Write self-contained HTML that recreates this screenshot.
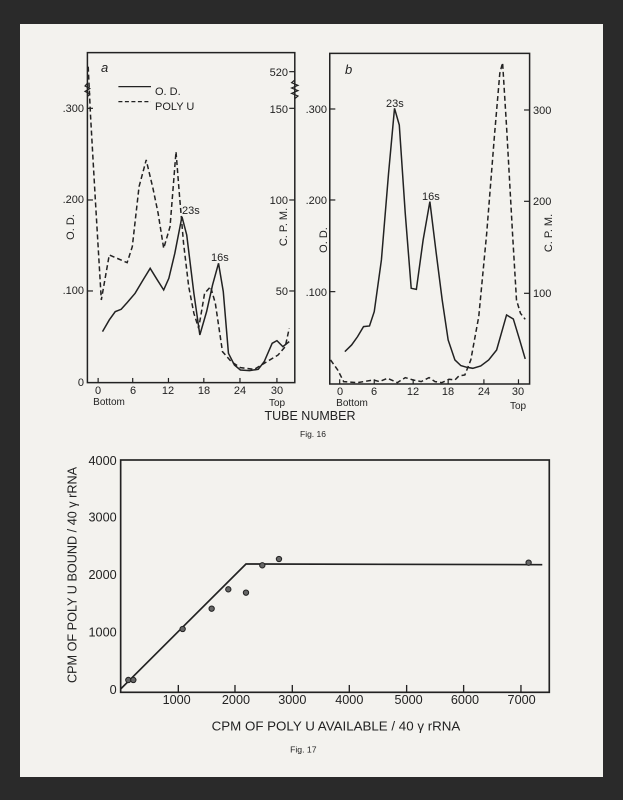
<!DOCTYPE html>
<html><head><meta charset="utf-8"><style>
html,body{margin:0;padding:0;background:#2a2a2a;}
svg{display:block;}
text{font-family:"Liberation Sans",sans-serif;fill:#222;}
</style></head><body>
<svg width="623" height="800" viewBox="0 0 623 800" xmlns="http://www.w3.org/2000/svg">
<rect x="0" y="0" width="623" height="800" fill="#2a2a2a"/>
<rect x="20" y="24" width="583" height="753" fill="#f3f2ee"/>
<g transform="scale(0.3973,0.3333)" stroke="#222" fill="none" stroke-width="4" vector-effect="non-scaling-stroke">
  <rect x="220" y="158" width="522" height="990" vector-effect="non-scaling-stroke" stroke-width="1.5"/>
  <g stroke-width="1.2">
    <line vector-effect="non-scaling-stroke" x1="220" y1="325" x2="234" y2="325"/><line vector-effect="non-scaling-stroke" x1="220" y1="600" x2="234" y2="600"/><line vector-effect="non-scaling-stroke" x1="220" y1="873" x2="234" y2="873"/>
    <line vector-effect="non-scaling-stroke" x1="742" y1="215" x2="728" y2="215"/><line vector-effect="non-scaling-stroke" x1="742" y1="325" x2="728" y2="325"/><line vector-effect="non-scaling-stroke" x1="742" y1="600" x2="728" y2="600"/><line vector-effect="non-scaling-stroke" x1="742" y1="873" x2="728" y2="873"/>
    <line vector-effect="non-scaling-stroke" x1="247" y1="1148" x2="247" y2="1134"/><line vector-effect="non-scaling-stroke" x1="334" y1="1148" x2="334" y2="1134"/><line vector-effect="non-scaling-stroke" x1="424" y1="1148" x2="424" y2="1134"/><line vector-effect="non-scaling-stroke" x1="513" y1="1148" x2="513" y2="1134"/><line vector-effect="non-scaling-stroke" x1="604" y1="1148" x2="604" y2="1134"/><line vector-effect="non-scaling-stroke" x1="697" y1="1148" x2="697" y2="1134"/>
    <path vector-effect="non-scaling-stroke" d="M742 240 l-8 8 l16 8 l-16 8 l16 8 l-16 8 l16 8 l-8 8"/>
    <path vector-effect="non-scaling-stroke" d="M220 250 l-6 8 l12 8 l-12 8 l12 8 l-6 8"/>
    <line vector-effect="non-scaling-stroke" x1="298" y1="260" x2="380" y2="260"/>
    <line vector-effect="non-scaling-stroke" x1="298" y1="305" x2="380" y2="305" stroke-dasharray="4 2.5"/>
  </g>
  <polyline vector-effect="non-scaling-stroke" stroke-width="1.5" points="258,995 275,960 290,935 305,928 320,908 340,880 360,840 378,805 395,838 412,870 425,835 440,760 458,650 470,705 488,880 503,1005 520,935 535,855 550,790 562,875 575,1060 590,1095 605,1110 628,1112 650,1108 665,1085 685,1030 697,1022 712,1040 728,1025"/>
  <polyline vector-effect="non-scaling-stroke" stroke-width="1.5" stroke-dasharray="5 3" points="222,200 228,350 240,600 255,900 275,765 320,788 333,740 350,560 368,480 385,565 398,640 412,745 428,680 443,455 452,590 462,730 475,860 488,940 500,985 515,880 530,860 542,910 560,1055 582,1085 605,1103 640,1108 665,1090 700,1065 718,1040 728,985"/>
  <rect vector-effect="non-scaling-stroke" stroke-width="1.5" x="830" y="160" width="503" height="992"/>
  <g stroke-width="1.2">
    <line vector-effect="non-scaling-stroke" x1="830" y1="327" x2="844" y2="327"/><line vector-effect="non-scaling-stroke" x1="830" y1="600" x2="844" y2="600"/><line vector-effect="non-scaling-stroke" x1="830" y1="875" x2="844" y2="875"/>
    <line vector-effect="non-scaling-stroke" x1="1333" y1="330" x2="1319" y2="330"/><line vector-effect="non-scaling-stroke" x1="1333" y1="604" x2="1319" y2="604"/><line vector-effect="non-scaling-stroke" x1="1333" y1="880" x2="1319" y2="880"/>
    <line vector-effect="non-scaling-stroke" x1="855" y1="1152" x2="855" y2="1138"/><line vector-effect="non-scaling-stroke" x1="942" y1="1152" x2="942" y2="1138"/><line vector-effect="non-scaling-stroke" x1="1040" y1="1152" x2="1040" y2="1138"/><line vector-effect="non-scaling-stroke" x1="1128" y1="1152" x2="1128" y2="1138"/><line vector-effect="non-scaling-stroke" x1="1218" y1="1152" x2="1218" y2="1138"/><line vector-effect="non-scaling-stroke" x1="1305" y1="1152" x2="1305" y2="1138"/>
  </g>
  <polyline vector-effect="non-scaling-stroke" stroke-width="1.5" points="868,1055 885,1035 900,1010 915,980 930,978 942,935 960,780 978,520 993,325 1005,375 1020,640 1035,865 1048,868 1065,720 1082,605 1098,760 1113,900 1128,1020 1145,1080 1160,1097 1175,1102 1190,1105 1210,1098 1230,1080 1250,1050 1275,945 1292,957 1308,1020 1322,1077"/>
  <polyline vector-effect="non-scaling-stroke" stroke-width="1.5" stroke-dasharray="5 3" points="832,1080 850,1110 865,1145 900,1148 940,1140 955,1145 975,1135 1000,1148 1020,1133 1040,1140 1060,1145 1080,1133 1095,1145 1112,1148 1130,1138 1145,1140 1155,1128 1170,1125 1185,1080 1205,950 1225,700 1245,400 1258,220 1265,188 1275,380 1290,700 1300,900 1310,940 1322,958"/>
</g>
<g font-size="11">
  <text x="101" y="72" font-style="italic" font-size="13">a</text>
  <text x="155" y="95">O. D.</text>
  <text x="155" y="110">POLY  U</text>
  <g text-anchor="end">
    <text x="84" y="112">.300</text><text x="84" y="203">.200</text><text x="84" y="294">.100</text><text x="84" y="386">0</text>
    <text x="288" y="76">520</text><text x="288" y="113">150</text><text x="288" y="204">100</text><text x="288" y="295">50</text>
    <text x="327" y="113">.300</text><text x="327" y="204">.200</text><text x="327" y="296">.100</text>
  </g>
  <text x="182" y="214">23s</text>
  <text x="211" y="261">16s</text>
  <text x="345" y="74" font-style="italic" font-size="13">b</text>
  <text x="533" y="114">300</text><text x="533" y="205">200</text><text x="533" y="297">100</text>
  <text x="386" y="107">23s</text>
  <text x="422" y="200">16s</text>
  <g text-anchor="middle">
    <text x="98" y="394">0</text><text x="133" y="394">6</text><text x="168" y="394">12</text><text x="204" y="394">18</text><text x="240" y="394">24</text><text x="277" y="394">30</text>
    <text x="109" y="405" font-size="10">Bottom</text><text x="277" y="406" font-size="10">Top</text>
    <text x="340" y="395">0</text><text x="374" y="395">6</text><text x="413" y="395">12</text><text x="448" y="395">18</text><text x="484" y="395">24</text><text x="518" y="395">30</text>
    <text x="352" y="406" font-size="10">Bottom</text><text x="518" y="409" font-size="10">Top</text>
    <text x="310" y="420" font-size="12.5">TUBE NUMBER</text>
    <text x="313" y="437" font-size="8.5" font-family="Liberation Serif">Fig.  16</text>
  </g>
  <text transform="translate(74,227) rotate(-90)" text-anchor="middle">O. D.</text>
  <text transform="translate(287,227) rotate(-90)" text-anchor="middle">C. P. M.</text>
  <text transform="translate(327,240) rotate(-90)" text-anchor="middle">O. D.</text>
  <text transform="translate(552,233) rotate(-90)" text-anchor="middle">C. P. M.</text>
</g>
<g transform="translate(60,440) scale(0.3333)">
  <g stroke="#222" fill="none" stroke-width="5">
    <rect x="182" y="60" width="1286" height="697"/>
    <g stroke-width="4">
      <line x1="355" y1="757" x2="355" y2="735"/><line x1="525" y1="757" x2="525" y2="735"/><line x1="697" y1="757" x2="697" y2="735"/><line x1="868" y1="757" x2="868" y2="735"/><line x1="1040" y1="757" x2="1040" y2="735"/><line x1="1211" y1="757" x2="1211" y2="735"/><line x1="1383" y1="757" x2="1383" y2="735"/>
    </g>
    <polyline points="182,747 558,372 1447,374"/>
  </g>
  <g fill="#666" stroke="#222" stroke-width="3">
    <circle cx="205" cy="720" r="8"/><circle cx="220" cy="720" r="8"/><circle cx="368" cy="567" r="8"/><circle cx="455" cy="506" r="8"/><circle cx="505" cy="448" r="8"/><circle cx="558" cy="458" r="8"/><circle cx="607" cy="376" r="8"/><circle cx="657" cy="357" r="8"/><circle cx="1406" cy="368" r="8"/>
  </g>
  <g font-size="38">
    <text x="170" y="75" text-anchor="end">4000</text>
    <text x="170" y="245" text-anchor="end">3000</text>
    <text x="170" y="417" text-anchor="end">2000</text>
    <text x="170" y="590" text-anchor="end">1000</text>
    <text x="170" y="762" text-anchor="end">0</text>
    <g text-anchor="middle">
      <text x="350" y="792">1000</text><text x="528" y="792">2000</text><text x="697" y="792">3000</text><text x="868" y="792">4000</text><text x="1046" y="792">5000</text><text x="1215" y="792">6000</text><text x="1385" y="792">7000</text>
      <text x="828" y="872" font-size="40">CPM OF POLY U  AVAILABLE / 40 γ  rRNA</text>
      <text x="730" y="937" font-size="26" font-family="Liberation Serif">Fig.  17</text>
    </g>
    <text transform="translate(50,405) rotate(-90)" text-anchor="middle" font-size="38">CPM OF POLY U BOUND / 40 γ rRNA</text>
  </g>
</g>
</svg>
</body></html>
